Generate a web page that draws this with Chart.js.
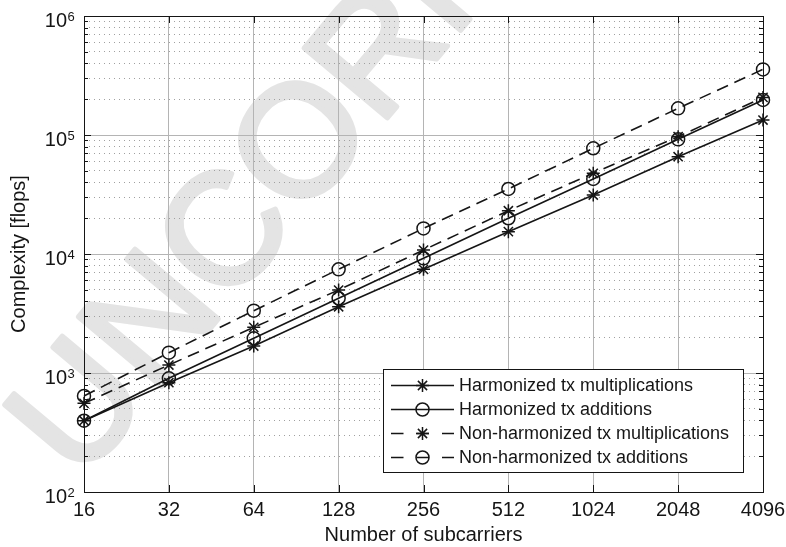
<!DOCTYPE html>
<html lang="en">
<head>
<meta charset="UTF-8">
<title>Complexity vs number of subcarriers</title>
<script src="https://cdn.jsdelivr.net/npm/chart.js@4.4.0/dist/chart.umd.min.js"></script>
<style>
  html, body { margin: 0; padding: 0; background: #fff; }
  #wrap { width: 786px; height: 547px; position: relative; }
</style>
</head>
<body>
<div id="wrap"><canvas id="cplx" width="786" height="547"></canvas></div>
<script>
// x categories: number of subcarriers
const subcarriers = ['16', '32', '64', '128', '256', '512', '1024', '2048', '4096'];

// complexity [flops]
const harmMult    = [397, 829, 1686, 3600, 7430, 15400, 31300, 65700, 133600];
const harmAdd     = [397, 903, 1956, 4240, 9200, 19950, 42700, 92000, 197000];
const nonHarmMult = [556, 1167, 2420, 4980, 10800, 23100, 47700, 96800, 207000];
const nonHarmAdd  = [641, 1482, 3340, 7430, 16400, 35200, 77300, 167500, 356000];

const seriesNames = [
  'Harmonized tx multiplications',
  'Harmonized tx additions',
  'Non-harmonized tx multiplications',
  'Non-harmonized tx additions'
];

// y axis: decades 10^2 .. 10^6, minor grid at 2..9
const yExponents = [2, 3, 4, 5, 6];
const yMinorSteps = [2, 3, 4, 5, 6, 7, 8, 9];

const WATERMARK = 'UNCORRECTED PROOF';
const FONT = '"Liberation Sans", Arial, Helvetica, sans-serif';
const INK = '#151515';

const yGridValues = [];
yExponents.forEach((e, i) => {
  yGridValues.push(Math.pow(10, e));
  if (i < yExponents.length - 1) yMinorSteps.forEach(m => yGridValues.push(m * Math.pow(10, e)));
});

function isDecade(v) {
  const l = Math.log10(v);
  return Math.abs(l - Math.round(l)) < 1e-6;
}

function series(label, data, pointStyle, dash) {
  return {
    label: label,
    data: data,
    borderColor: INK,
    backgroundColor: 'rgba(0,0,0,0)',
    borderWidth: 1.6,
    borderDash: dash,
    pointStyle: pointStyle,
    pointRadius: 6.5,
    pointBorderWidth: 1.5,
    pointBorderColor: INK,
    pointBackgroundColor: 'rgba(0,0,0,0)',
    tension: 0,
    fill: false,
    clip: false
  };
}

const DASH = [12, 7];

// light diagonal watermark, under the grid
const watermarkPlugin = {
  id: 'watermark',
  beforeDraw(chart) {
    const ctx = chart.ctx;
    ctx.save();
    ctx.translate(80, 484);
    ctx.rotate(-50 * Math.PI / 180);
    ctx.font = '158px ' + FONT;
    ctx.fillStyle = '#e4e4e4';
    ctx.strokeStyle = '#e4e4e4';
    ctx.lineWidth = 5;
    ctx.lineJoin = 'round';
    ctx.textBaseline = 'alphabetic';
    ctx.fillText(WATERMARK, 0, 0);
    ctx.strokeText(WATERMARK, 0, 0);
    ctx.restore();
  }
};

// box, inward ticks, y labels with exponents, legend
const framePlugin = {
  id: 'frame',
  afterDraw(chart) {
    const ctx = chart.ctx;
    const a = chart.chartArea;
    const xs = chart.scales.x, ys = chart.scales.y;
    ctx.save();
    ctx.strokeStyle = INK;
    ctx.lineWidth = 1;

    // inward tick marks
    ctx.beginPath();
    subcarriers.forEach((lab, i) => {
      const x = Math.round(xs.getPixelForValue(i)) + 0.5;
      ctx.moveTo(x, a.bottom); ctx.lineTo(x, a.bottom - 7);
      ctx.moveTo(x, a.top); ctx.lineTo(x, a.top + 7);
    });
    yGridValues.forEach(v => {
      const y = Math.round(ys.getPixelForValue(v)) + 0.5;
      const len = isDecade(v) ? 7 : 4;
      ctx.moveTo(a.left, y); ctx.lineTo(a.left + len, y);
      ctx.moveTo(a.right, y); ctx.lineTo(a.right - len, y);
    });
    ctx.stroke();

    // axes box
    ctx.strokeRect(Math.round(a.left) + 0.5, Math.round(a.top) + 0.5,
      Math.round(a.right - a.left), Math.round(a.bottom - a.top));

    // y tick labels 10^n
    ctx.fillStyle = INK;
    yExponents.forEach(e => {
      const y = ys.getPixelForValue(Math.pow(10, e));
      ctx.font = '20px ' + FONT;
      ctx.textAlign = 'right';
      ctx.textBaseline = 'alphabetic';
      ctx.fillText('10', a.left - 17, y + 11);
      ctx.font = '13px ' + FONT;
      ctx.textAlign = 'left';
      ctx.fillText(String(e), a.left - 16.5, y + 5);
    });

    // legend
    const lw = 360, lh = 103;
    const lx = a.right - 20 - lw, ly = a.bottom - 20 - lh;
    ctx.fillStyle = '#fff';
    ctx.fillRect(lx, ly, lw, lh);
    ctx.lineWidth = 1;
    ctx.strokeRect(Math.round(lx) + 0.5, Math.round(ly) + 0.5, lw, lh);
    chart.data.datasets.forEach((ds, i) => {
      const cy = ly + 16.5 + i * 24;
      const x0 = lx + 8, x1 = lx + 71, cx = (x0 + x1) / 2;
      ctx.strokeStyle = INK;
      ctx.lineWidth = 1.6;
      ctx.setLineDash(ds.borderDash && ds.borderDash.length ? [12.5, 13] : []);
      ctx.beginPath();
      ctx.moveTo(x0, cy); ctx.lineTo(x1, cy);
      ctx.stroke();
      ctx.setLineDash([]);
      ctx.lineWidth = 1.5;
      ctx.fillStyle = 'rgba(0,0,0,0)';
      Chart.helpers.drawPoint(ctx, {
        pointStyle: ds.pointStyle, radius: 6.5, rotation: 0, borderWidth: 1.5
      }, cx, cy);
      ctx.fillStyle = INK;
      ctx.font = '18px ' + FONT;
      ctx.textAlign = 'left';
      ctx.textBaseline = 'middle';
      ctx.fillText(ds.label, lx + 76, cy + 1);
    });
    ctx.restore();
  }
};

Chart.defaults.font.family = FONT;
Chart.defaults.color = INK;

new Chart(document.getElementById('cplx'), {
  type: 'line',
  data: {
    labels: subcarriers,
    datasets: [
      series(seriesNames[0], harmMult, 'star', []),
      series(seriesNames[1], harmAdd, 'circle', []),
      series(seriesNames[2], nonHarmMult, 'star', DASH),
      series(seriesNames[3], nonHarmAdd, 'circle', DASH)
    ]
  },
  options: {
    responsive: false,
    animation: false,
    layout: { padding: { top: 16, right: 23, left: 0, bottom: 0 } },
    plugins: { legend: { display: false }, tooltip: { enabled: false } },
    scales: {
      x: {
        type: 'category',
        offset: false,
        grid: { color: '#b4b4b4', lineWidth: 1, drawTicks: false },
        border: { display: false },
        ticks: { font: { size: 20 }, color: INK, padding: 6, maxRotation: 0, autoSkip: false },
        title: { display: true, text: 'Number of subcarriers', font: { size: 20 }, color: INK, padding: 0 },
        afterFit: s => { s.height = 55; s.paddingLeft = 0; s.paddingRight = 0; }
      },
      y: {
        type: 'logarithmic',
        min: 100,
        max: 1e6,
        afterBuildTicks: s => { s.ticks = yGridValues.map(v => ({ value: v })); },
        grid: {
          color: c => (c.tick && !isDecade(c.tick.value)) ? '#a0a0a0' : '#b4b4b4',
          lineWidth: 1,
          drawTicks: false
        },
        border: {
          display: false,
          dash: c => (c.tick && !isDecade(c.tick.value)) ? [1, 4] : []
        },
        ticks: { display: false },
        title: { display: true, text: 'Complexity [flops]', font: { size: 20 }, color: INK, padding: { top: 7, bottom: 0 } },
        afterFit: s => { s.width = 84; s.paddingTop = 0; s.paddingBottom = 0; }
      }
    }
  },
  plugins: [watermarkPlugin, framePlugin]
});
</script>
</body>
</html>
